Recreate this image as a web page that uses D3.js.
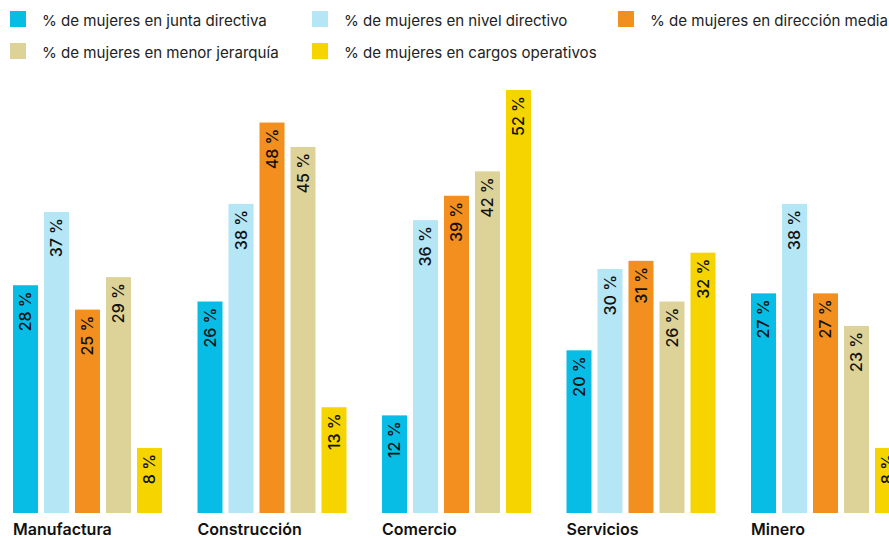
<!DOCTYPE html>
<html>
<head>
<meta charset="utf-8">
<script src="https://cdn.jsdelivr.net/npm/d3@7"></script>
<style>
  html, body { margin: 0; padding: 0; background: #fff; overflow: hidden; }
  svg { display: block; font-family: Inter, "Noto Sans", sans-serif; }
</style>
</head>
<body>
<svg id="chart" width="889" height="538"></svg>
<script>
// Sectors and the share of women at each hierarchy level
const categories = ["Manufactura", "Construcción", "Comercio", "Servicios", "Minero"];
const series = [
  "% de mujeres en junta directiva",
  "% de mujeres en nivel directivo",
  "% de mujeres en dirección media",
  "% de mujeres en menor jerarquía",
  "% de mujeres en cargos operativos"
];
const juntaDirectiva = [28, 26, 12, 20, 27];
const nivelDirectivo = [37, 38, 36, 30, 38];
const direccionMedia = [25, 48, 39, 31, 27];
const menorJerarquia = [29, 45, 42, 26, 23];
const cargosOperativos = [8, 13, 52, 32, 8];
const colors = ["#07bde6", "#b4e6f6", "#f28f1f", "#ddd399", "#f5d400"];

const values = [juntaDirectiva, nivelDirectivo, direccionMedia, menorJerarquia, cargosOperativos];
const rows = categories.map((c, i) => ({
  category: c,
  bars: series.map((s, j) => ({ series: s, value: values[j][i], color: colors[j] }))
}));

const svg = d3.select("#chart");

const x0 = d3.scaleBand().domain(categories).range([13, 900]).paddingInner(0.1924).paddingOuter(0);
const x1 = d3.scaleBand().domain(series).range([0, x0.bandwidth()]).paddingInner(0.1935).paddingOuter(0);
const y = d3.scaleLinear().domain([0, 52]).range([513, 90]);

// Bars and their rotated value labels
const groups = svg.append("g").selectAll("g")
  .data(rows).join("g")
  .attr("transform", d => `translate(${x0(d.category)},0)`);

groups.selectAll("rect")
  .data(d => d.bars).join("rect")
  .attr("x", d => x1(d.series))
  .attr("y", d => y(d.value))
  .attr("width", x1.bandwidth())
  .attr("height", d => y(0) - y(d.value))
  .attr("fill", d => d.color);

groups.selectAll("text.value")
  .data(d => d.bars).join("text")
  .attr("class", "value")
  .attr("transform", d => `translate(${x1(d.series) + x1.bandwidth() / 2},${y(d.value) + 6}) rotate(-90)`)
  .attr("text-anchor", "end")
  .attr("dy", "0.36em")
  .attr("font-size", 16)
  .attr("font-weight", 500)
  .attr("fill", "#111")
  .text(d => `${d.value} %`);

// Category labels under each group
svg.append("g").selectAll("text")
  .data(categories).join("text")
  .attr("x", d => x0(d))
  .attr("y", 535)
  .attr("font-size", 16)
  .attr("font-weight", 600)
  .attr("fill", "#111")
  .text(d => d);

// Legend
const legendPos = [[10, 11], [312, 11], [618, 11], [10, 43], [312, 43]];
const legend = svg.append("g").selectAll("g")
  .data(series).join("g")
  .attr("transform", (d, i) => `translate(${legendPos[i][0]},${legendPos[i][1]})`);
legend.append("rect")
  .attr("width", 16).attr("height", 16)
  .attr("fill", (d, i) => colors[i]);
legend.append("text")
  .attr("x", i => 32)
  .attr("y", 15)
  .attr("font-size", 15.1)
  .attr("fill", "#222")
  .text(d => d);
</script>
</body>
</html>
